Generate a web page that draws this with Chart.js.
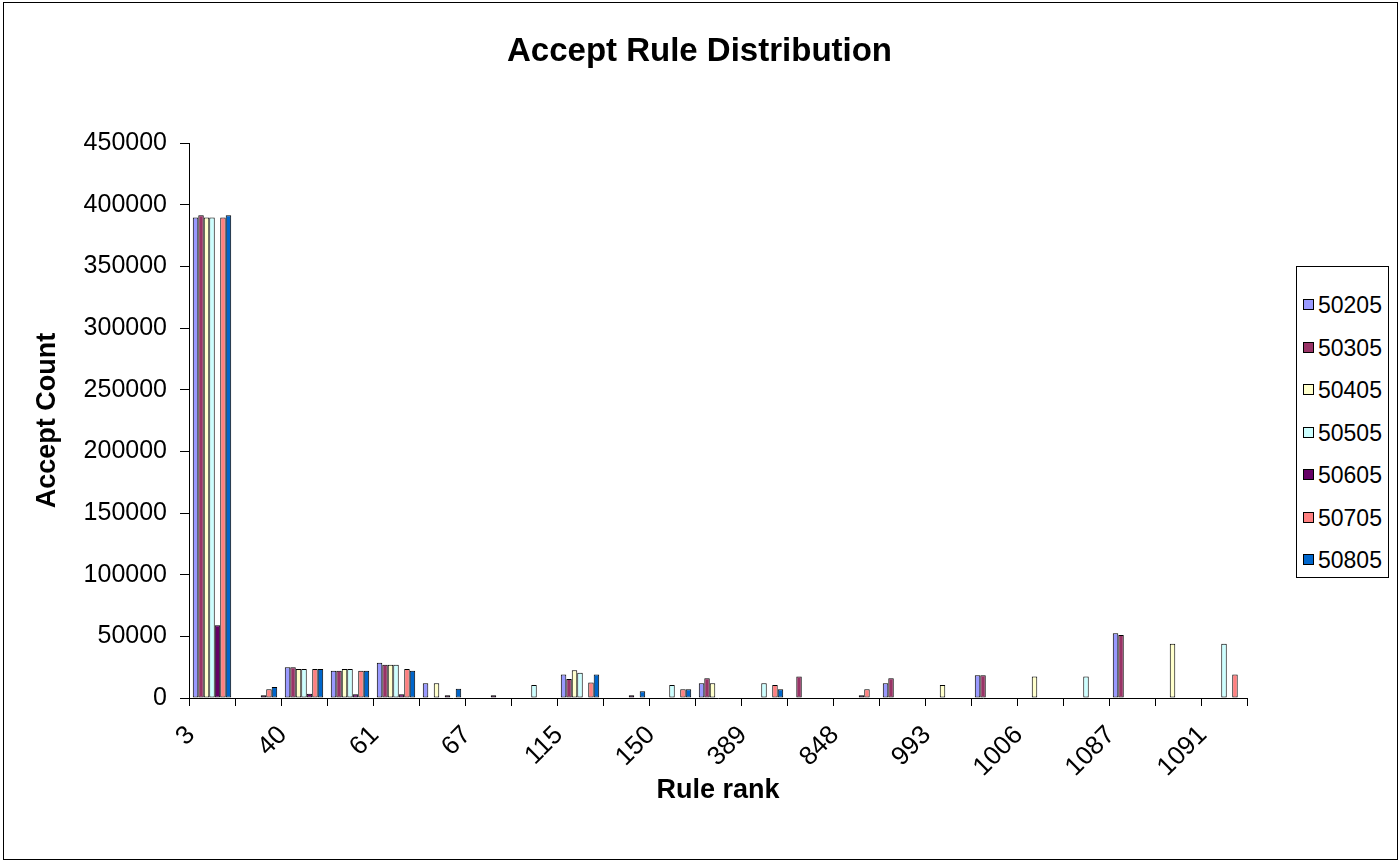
<!DOCTYPE html>
<html>
<head>
<meta charset="utf-8">
<title>Accept Rule Distribution</title>
<script src="https://cdn.jsdelivr.net/npm/chart.js@4.4.1/dist/chart.umd.min.js"></script>
<style>
  html, body { margin: 0; padding: 0; background: #fff; }
  #wrap { position: relative; width: 1399px; height: 862px; font-family: "Liberation Sans", Arial, sans-serif; }
  #frame { position: absolute; left: 3px; top: 2px; width: 1395px; height: 858px; border: 1px solid #000; box-sizing: border-box; pointer-events: none; }
  #legend { position: absolute; left: 1296px; top: 266px; width: 93px; height: 312px; border: 1px solid #000; box-sizing: border-box; background: #fff; padding-top: 17px; }
  #legend .item { height: 42.5px; line-height: 42.5px; font-size: 23px; color: #000; white-space: nowrap; }
  #legend .item span.box { display: inline-block; width: 11px; height: 11px; border: 1px solid #000; box-sizing: border-box; margin-left: 6px; margin-right: 4px; vertical-align: middle; position: relative; top: -2px; }
</style>
</head>
<body>
<div id="wrap">
  <canvas id="accept_rule_canvas" width="1399" height="862"></canvas>
  <div id="frame"></div>
  <div id="legend"></div>
</div>
<script>

// categories (only every other one is labelled on the axis)
var rule_labels = ['3','38','40','59','61','65','67','87','115','140','150','246',
                   '389','727','848','990','993','1000','1006','1054','1087','1088','1091'];

var series_names = ['50205','50305','50405','50505','50605','50705','50805'];

var accept_50205 = [389500, null, 25000, 22000, 28500, 12000, null, null, 19000, null, null, 12000,
                    null, null, null, 12000, null, 18500, null, null, 52500, null, null];
var accept_50305 = [391500, null, 25000, 22000, 27000, null, null, null, 15500, null, null, 16000,
                    null, 17500, null, 16000, null, 18500, null, null, 51000, null, null];
var accept_50405 = [389500, null, 23500, 23500, 27000, 12000, null, null, 22500, null, null, 12000,
                    null, null, null, null, 10500, null, 17500, null, null, 44000, null];
var accept_50505 = [389500, null, 23500, 23500, 27000, null, null, 10500, 20500, null, 10500, null,
                    12000, null, null, null, null, null, null, 17500, null, null, 44000];
var accept_50605 = [59000, 2200, 3500, 3000, 3000, 2200, 2200, null, null, 2200, null, null,
                    null, null, 2200, null, null, null, null, null, null, null, null];
var accept_50705 = [389500, 7000, 23500, 22000, 23500, null, null, null, 12500, null, 7000, null,
                    10500, null, 7000, null, null, null, null, null, null, null, 19000];
var accept_50805 = [391500, 9000, 23500, 22000, 22000, 7500, null, null, 19000, 5500, 7000, null,
                    7000, null, null, null, null, null, null, null, null, null, null];

var y_ticks = [0, 50000, 100000, 150000, 200000, 250000, 300000, 350000, 400000, 450000];

var series_colors = ['#9999FF', '#993366', '#FFFFCC', '#CCFFFF', '#660066', '#FF8080', '#0066CC'];

var font_family = '"Liberation Sans", Arial, sans-serif';

var series_values = [accept_50205, accept_50305, accept_50405, accept_50505,
                     accept_50605, accept_50705, accept_50805];

var datasets = [];
for (var i = 0; i < series_names.length; i++)
{
  datasets.push({
    label: series_names[i],
    data: series_values[i],
    backgroundColor: series_colors[i],
    borderColor: '#000000',
    borderWidth: 1,
    borderSkipped: false,
    categoryPercentage: 0.835,
    barPercentage: 1.0
  });
}

var chart_canvas = document.getElementById('accept_rule_canvas').getContext('2d');

var accept_chart = new Chart(chart_canvas, {
  type: 'bar',
  data: { labels: rule_labels, datasets: datasets },
  options: {
    responsive: false,
    animation: false,
    layout: { padding: 0 },
    plugins: {
      legend: { display: false },
      tooltip: { enabled: false },
      title: {
        display: true,
        text: 'Accept Rule Distribution',
        color: '#000',
        font: { family: font_family, size: 33, weight: 'bold' },
        padding: { top: 32, bottom: 71.4 }
      }
    },
    scales: {
      x: {
        grid: { offset: true, drawOnChartArea: false, drawTicks: true, tickLength: 8, color: '#000' },
        border: { display: true, color: '#000' },
        ticks: {
          autoSkip: false,
          maxRotation: 45,
          minRotation: 45,
          labelOffset: -21,
          padding: 14,
          color: '#000',
          font: { family: font_family, size: 26 },
          callback: function(value, index) {
            return index % 2 === 0 ? this.getLabelForValue(value) : '';
          }
        },
        title: {
          display: true,
          text: 'Rule rank',
          color: '#000',
          font: { family: font_family, size: 27, weight: 'bold' },
          padding: { bottom: 55 }
        },
        afterFit: function(scale) { scale.height = 862 - 698; }
      },
      y: {
        min: 0,
        max: 450000,
        afterBuildTicks: function(scale) {
          scale.ticks = y_ticks.map(function(v) { return { value: v }; });
        },
        grid: { drawOnChartArea: false, drawTicks: true, tickLength: 9, color: '#000' },
        border: { display: true, color: '#000' },
        ticks: {
          padding: 13,
          color: '#000',
          font: { family: font_family, size: 25 },
          callback: function(value) { return String(value); }
        },
        title: {
          display: true,
          text: 'Accept Count',
          color: '#000',
          font: { family: font_family, size: 27, weight: 'bold' },
          padding: { top: 31 }
        },
        afterFit: function(scale) { scale.width = 189; }
      },
      // empty axis that keeps the room for the legend box on the right
      legend_space: {
        type: 'linear',
        position: 'right',
        grid: { display: false, drawTicks: false },
        border: { display: false },
        ticks: { display: false },
        afterFit: function(scale) { scale.width = 1399 - 1247; }
      }
    }
  }
});

// legend box drawn as html, the way the spreadsheet shows it
var legend_html = '';
accept_chart.data.datasets.forEach(function(ds)
{
  legend_html += '<div class="item"><span class="box" style="background:' + ds.backgroundColor +
                 '"></span>' + ds.label + '</div>';
});
document.getElementById('legend').innerHTML = legend_html;

</script>
</body>
</html>
